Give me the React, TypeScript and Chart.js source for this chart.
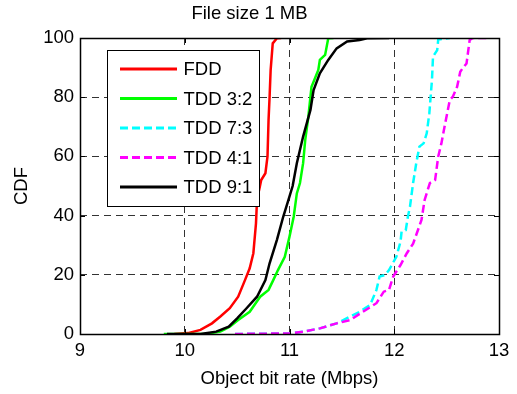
import React, { useEffect, useRef } from "react";
import { Chart, registerables } from "chart.js";

Chart.register(...registerables);

const FONT = "'Liberation Sans', Arial, Helvetica, sans-serif";
const FS = 18.5;

const seriesNames = ["FDD", "TDD 3:2", "TDD 7:3", "TDD 4:1", "TDD 9:1"];
const seriesColors = ["#ff0000", "#00ff00", "#00ffff", "#ff00ff", "#000000"];
const seriesDashed = [false, false, true, true, false];

const xTicks = [9, 10, 11, 12, 13];
const yTicks = [0, 20, 40, 60, 80, 100];

const fddX = [9.9, 10.03, 10.15, 10.26, 10.34, 10.43, 10.51, 10.575, 10.62, 10.655, 10.68, 10.69, 10.73, 10.77, 10.79, 10.8, 10.81, 10.82, 10.84, 10.88, 10.92];
const fddY = [0, 0.3, 1.4, 3.6, 5.9, 8.7, 12.6, 18.2, 22.2, 27.3, 37.4, 45.3, 52, 54.3, 60, 72.3, 80.2, 89.2, 98.2, 99.9, 100];

const tdd32X = [9.8, 10.2, 10.34, 10.43, 10.51, 10.62, 10.72, 10.8, 10.845, 10.89, 10.955, 11.0, 11.04, 11.07, 11.1, 11.13, 11.15, 11.18, 11.21, 11.23, 11.275, 11.29, 11.34, 11.37, 11.42];
const tdd32Y = [0, 0, 0.8, 2.5, 4.7, 7.5, 12.6, 14.9, 18.2, 21.6, 26.1, 32.9, 39.6, 47.5, 51, 57.7, 65.5, 73.4, 83.5, 85.2, 89.2, 92.6, 94.3, 99.9, 100];

const tdd73X = [10.48, 11.0, 11.13, 11.29, 11.45, 11.58, 11.67, 11.77, 11.83, 11.86, 11.91, 11.95, 12.02, 12.06, 12.07, 12.11, 12.13, 12.15, 12.18, 12.21, 12.24, 12.28, 12.31, 12.335, 12.36, 12.37, 12.41, 12.42, 12.53];
const tdd73Y = [0, 0.2, 0.8, 1.9, 3.6, 5.9, 7.5, 9.8, 14.9, 19.4, 19.9, 21.6, 26.1, 31.2, 34.6, 35.1, 39.6, 43, 51, 57.7, 63.3, 64.4, 67.8, 74.6, 85.8, 93.7, 95.9, 99.5, 100];

const tdd41X = [10.48, 11.0, 11.13, 11.29, 11.45, 11.58, 11.7, 11.83, 11.9, 11.95, 11.99, 12.06, 12.12, 12.18, 12.26, 12.29, 12.34, 12.39, 12.42, 12.45, 12.48, 12.53, 12.56, 12.6, 12.63, 12.66, 12.69, 12.72, 12.75, 12.88];
const tdd41Y = [0, 0.2, 0.8, 1.9, 3.6, 4.7, 7.5, 10.4, 14.3, 14.9, 19.4, 23.3, 27.3, 30.5, 38.5, 45.3, 51, 52, 60, 64.4, 70, 79, 80.2, 83.5, 88.6, 90.1, 91.4, 99.3, 100, 100];

const tdd91X = [9.83, 10.15, 10.3, 10.42, 10.5, 10.59, 10.69, 10.77, 10.81, 10.88, 10.94, 10.99, 11.03, 11.07, 11.13, 11.2, 11.23, 11.29, 11.37, 11.45, 11.55, 11.67, 11.74, 11.95];
const tdd91Y = [0, 0, 0.8, 2.5, 5.3, 8.7, 12.6, 18.2, 23.9, 31.8, 39.6, 45.3, 50, 57.7, 66.7, 75.7, 82.4, 88.1, 92.6, 96.5, 98.8, 99.3, 99.9, 100];

const seriesX = [fddX, tdd32X, tdd73X, tdd41X, tdd91X];
const seriesY = [fddY, tdd32Y, tdd73Y, tdd41Y, tdd91Y];

const LINE_W = 2.5;
const DASH = [8, 4];
const GRID_DASH = [7, 5];

const boxPlugin = {
  id: "matlabBox",
  afterDatasetsDraw(chart: any) {
    const { ctx, chartArea } = chart;
    const { left, right, top, bottom } = chartArea;
    const xs = chart.scales.x;
    const ys = chart.scales.y;
    ctx.save();
    ctx.strokeStyle = "#000";
    ctx.lineWidth = 1;
    ctx.setLineDash([]);
    ctx.beginPath();
    const tl = 5;
    xTicks.forEach((v) => {
      const p = Math.round(xs.getPixelForValue(v)) + 0.5;
      ctx.moveTo(p, bottom);
      ctx.lineTo(p, bottom - tl);
      ctx.moveTo(p, top);
      ctx.lineTo(p, top + tl);
    });
    yTicks.forEach((v) => {
      const p = Math.round(ys.getPixelForValue(v)) + 0.5;
      ctx.moveTo(left, p);
      ctx.lineTo(left + tl, p);
      ctx.moveTo(right, p);
      ctx.lineTo(right - tl, p);
    });
    ctx.stroke();
    ctx.lineWidth = 1.5;
    ctx.strokeRect(Math.round(left) + 0.5, Math.round(top) + 0.5, Math.round(right - left), Math.round(bottom - top));
    ctx.restore();
  },
  afterDraw(chart: any) {
    const { ctx, chartArea } = chart;
    const bx = chartArea.left + 27.5;
    const by = chartArea.top + 12.5;
    const bw = 152;
    const bh = 156;
    ctx.save();
    ctx.fillStyle = "#fff";
    ctx.fillRect(bx, by, bw, bh);
    ctx.strokeStyle = "#000";
    ctx.lineWidth = 1;
    ctx.setLineDash([]);
    ctx.strokeRect(bx, by, bw, bh);
    ctx.font = `${FS}px ${FONT}`;
    ctx.textBaseline = "middle";
    ctx.textAlign = "left";
    seriesNames.forEach((name, i) => {
      const ry = by + 18.5 + i * 29.5;
      ctx.beginPath();
      ctx.strokeStyle = seriesColors[i];
      ctx.lineWidth = LINE_W + 0.5;
      ctx.setLineDash(seriesDashed[i] ? DASH : []);
      ctx.moveTo(bx + 12.5, ry);
      ctx.lineTo(bx + 69.5, ry);
      ctx.stroke();
      ctx.setLineDash([]);
      ctx.fillStyle = "#000";
      ctx.fillText(name, bx + 76, ry + 1);
    });
    ctx.restore();
  },
};

export default function App() {
  const ref = useRef<HTMLCanvasElement>(null);

  useEffect(() => {
    if (!ref.current) return;
    const datasets = seriesNames.map((name, i) => ({
      label: name,
      data: seriesX[i].map((x, j) => ({ x, y: seriesY[i][j] })),
      borderColor: seriesColors[i],
      backgroundColor: seriesColors[i],
      borderWidth: LINE_W,
      borderDash: seriesDashed[i] ? DASH : [],
      pointRadius: 0,
      tension: 0,
      fill: false,
      order: seriesNames.length - i,
    }));
    const chart = new Chart(ref.current, {
      type: "line",
      data: { datasets },
      options: {
        animation: false,
        responsive: false,
        devicePixelRatio: 1,
        layout: { padding: { left: 0, right: 18, top: 0, bottom: 0 } },
        plugins: {
          legend: { display: false },
          tooltip: { enabled: false },
          title: {
            display: true,
            text: "File size 1 MB",
            color: "#000",
            font: { family: FONT, size: FS, weight: "normal" },
            padding: { top: 2.5, bottom: 13.3 },
          },
        },
        scales: {
          x: {
            type: "linear",
            min: 9,
            max: 13,
            afterFit: (s: any) => {
              s.height = 60;
            },
            afterBuildTicks: (s: any) => {
              s.ticks = xTicks.map((v) => ({ value: v }));
            },
            border: { display: false, dash: GRID_DASH },
            grid: {
              drawTicks: false,
              color: (c: any) => (c.tick && (c.tick.value === 9 || c.tick.value === 13) ? "rgba(0,0,0,0)" : "#333"),
              lineWidth: 1,
            },
            ticks: {
              padding: 6,
              color: "#000",
              font: { family: FONT, size: FS },
              maxRotation: 0,
            },
            title: {
              display: true,
              text: "Object bit rate (Mbps)",
              color: "#000",
              font: { family: FONT, size: FS },
              padding: { top: 0, bottom: 4 },
            },
          },
          y: {
            type: "linear",
            min: 0,
            max: 100,
            afterFit: (s: any) => {
              s.width = 80;
            },
            afterBuildTicks: (s: any) => {
              s.ticks = yTicks.map((v) => ({ value: v }));
            },
            border: { display: false, dash: GRID_DASH },
            grid: {
              drawTicks: false,
              color: (c: any) => (c.tick && (c.tick.value === 0 || c.tick.value === 100) ? "rgba(0,0,0,0)" : "#333"),
              lineWidth: 1,
            },
            ticks: {
              padding: 6,
              color: "#000",
              font: { family: FONT, size: FS },
            },
            title: {
              display: true,
              text: "CDF",
              color: "#000",
              font: { family: FONT, size: FS },
              padding: { top: 11, bottom: 0 },
            },
          },
        },
      },
      plugins: [boxPlugin],
    } as any);
    return () => chart.destroy();
  }, []);

  return (
    <div style={{ position: "fixed", left: 0, top: 0, width: 517, height: 394, background: "#fff" }}>
      <canvas ref={ref} width={517} height={394} style={{ width: 517, height: 394, display: "block" }} />
    </div>
  );
}
